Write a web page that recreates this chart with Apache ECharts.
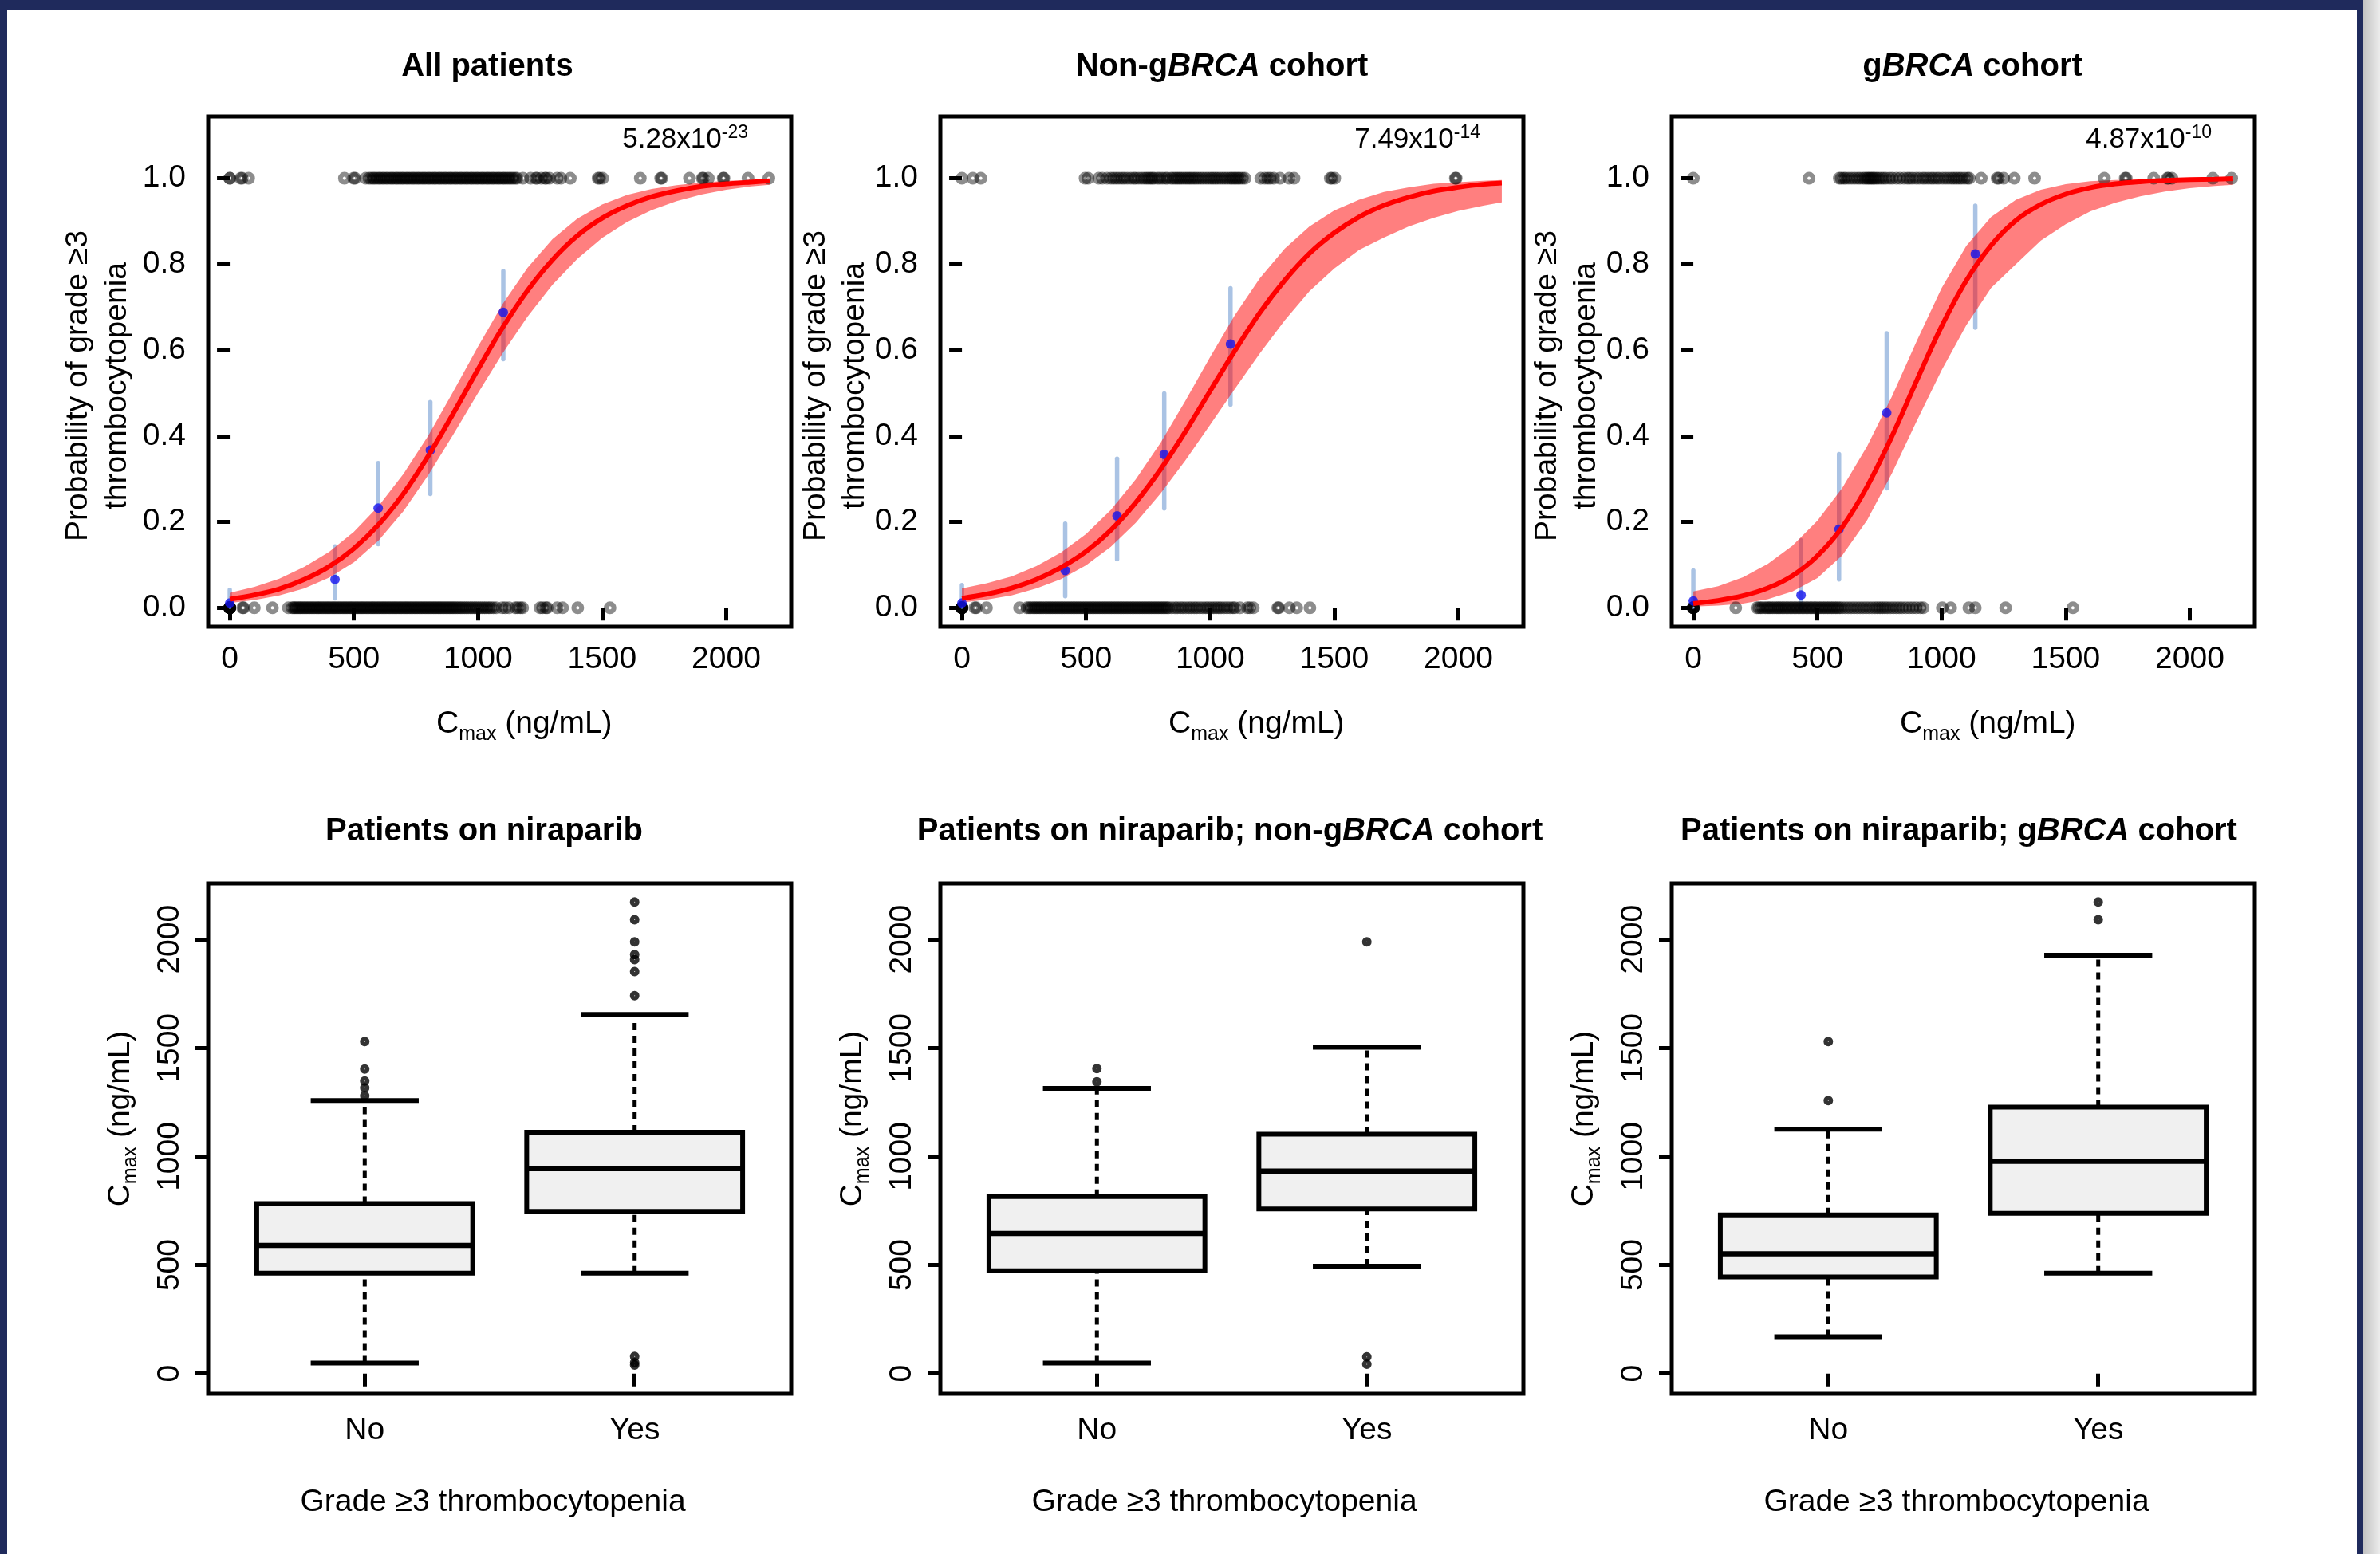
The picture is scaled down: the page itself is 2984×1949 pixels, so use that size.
<!DOCTYPE html>
<html>
<head>
<meta charset="utf-8">
<script src="https://cdn.jsdelivr.net/npm/echarts@6.0.0/dist/echarts.min.js"></script>
<style>
  html, body { margin: 0; padding: 0; background: #ffffff; }
  #chart { width: 2984px; height: 1949px; }
</style>
</head>
<body>
<div id="chart"></div>
<script>
// ---------- Exposure–response data ----------
const cmaxSteps = [0, 100, 200, 300, 400, 500, 600, 700, 800, 900, 1000, 1100, 1200, 1300, 1400, 1500, 1600, 1700, 1800, 1900, 2000, 2100, 2175];

// All patients: fitted probability and 95% band
const allFit   = [0.020, 0.030, 0.044, 0.066, 0.096, 0.138, 0.194, 0.266, 0.354, 0.452, 0.555, 0.653, 0.739, 0.810, 0.866, 0.907, 0.936, 0.957, 0.971, 0.981, 0.987, 0.991, 0.994];
const allLower = [0.011, 0.018, 0.029, 0.045, 0.070, 0.106, 0.157, 0.225, 0.309, 0.403, 0.500, 0.593, 0.678, 0.752, 0.812, 0.861, 0.898, 0.926, 0.947, 0.962, 0.973, 0.981, 0.985];
const allUpper = [0.035, 0.049, 0.068, 0.095, 0.130, 0.177, 0.237, 0.312, 0.401, 0.503, 0.608, 0.708, 0.792, 0.858, 0.906, 0.939, 0.961, 0.975, 0.984, 0.990, 0.994, 0.996, 0.997];
const allBinCmax  = [0, 424, 598, 808, 1102];
const allBinRate  = [0.011, 0.066, 0.232, 0.367, 0.688];
const allBinLower = [0, 0.022, 0.148, 0.265, 0.579];
const allBinUpper = [0.042, 0.143, 0.337, 0.479, 0.784];
const allEvents = [0, 0, 44, 50, 76, 462, 499, 505,
  548, 561, 569, 578, 584, 593, 601, 607, 616, 622, 631, 637, 646, 653, 659, 668, 674, 681, 689, 696, 702, 711, 717, 724,
  732, 739, 745, 754, 760, 767, 775, 782, 788, 797, 803, 810, 818, 825, 831, 840, 846, 853, 861, 868, 874, 883, 889, 896,
  904, 911, 917, 926, 932, 939, 947, 954, 960, 969, 975, 982, 990, 997, 1003, 1012, 1018, 1025, 1033, 1040, 1046, 1055,
  1061, 1068, 1076, 1083, 1089, 1098, 1104, 1111, 1119, 1126, 1134, 1141, 1150, 1157,
  1181, 1212, 1233, 1238, 1255, 1270, 1275, 1288, 1319, 1334, 1372, 1484, 1490, 1502, 1654, 1736, 1740, 1852, 1904, 1908,
  1928, 1988, 1991, 2088, 2172];
const allNoEvents = [0, 0, 0, 0, 0, 0, 0, 0, 0, 0, 52, 56, 99, 172, 236,
  251, 257, 262, 268, 275, 281, 286, 293, 299, 305, 311, 318, 323, 330, 336, 342, 349, 355, 360, 367, 373, 379, 386, 392,
  398, 404, 411, 417, 423, 429, 436, 442, 448, 455, 461, 467, 473, 480, 486, 492, 498, 505, 511, 517, 524, 530, 536, 542,
  549, 555, 561, 568, 574, 580, 586, 593, 599, 605, 612, 618, 624, 630, 637, 643, 649, 656, 662, 668, 674, 681, 687, 693,
  700, 706, 712, 718, 725, 731, 737, 744, 750, 756, 763, 769, 775, 782, 788, 794, 801, 807, 813, 820, 826, 832, 839, 845,
  851, 858, 864, 871, 877, 884, 890, 897, 903, 910, 917, 924, 931, 938, 946, 953, 961, 969, 977, 985, 993, 1001, 1010,
  1018, 1027, 1035, 1044, 1052, 1062, 1074, 1098, 1110, 1125, 1151, 1160, 1171, 1180, 1250, 1260, 1273, 1279, 1319, 1341,
  1402, 1532];

// Non-gBRCA cohort
const nonFit   = [0.022, 0.032, 0.046, 0.066, 0.094, 0.131, 0.181, 0.245, 0.322, 0.410, 0.505, 0.599, 0.687, 0.762, 0.825, 0.873, 0.910, 0.937, 0.956, 0.970, 0.979, 0.986, 0.989];
const nonLower = [0.012, 0.019, 0.029, 0.045, 0.067, 0.099, 0.142, 0.198, 0.266, 0.343, 0.426, 0.510, 0.592, 0.669, 0.737, 0.790, 0.833, 0.862, 0.888, 0.908, 0.924, 0.936, 0.944];
const nonUpper = [0.045, 0.057, 0.073, 0.097, 0.129, 0.172, 0.228, 0.299, 0.384, 0.482, 0.584, 0.682, 0.767, 0.836, 0.888, 0.925, 0.950, 0.968, 0.979, 0.987, 0.991, 0.994, 0.996];
const nonBinCmax  = [0, 416, 625, 815, 1082];
const nonBinRate  = [0.011, 0.087, 0.214, 0.357, 0.614];
const nonBinLower = [0, 0.027, 0.113, 0.231, 0.473];
const nonBinUpper = [0.053, 0.196, 0.347, 0.499, 0.744];
const nonEvents = [0, 44, 76, 496, 508, 551, 566, 585, 600, 611, 622, 633, 645, 655, 667, 680, 692, 700, 712, 724, 735,
  744, 752, 760, 767, 775, 788, 797, 808, 820, 828, 842, 851, 860, 868, 876, 884, 893, 902, 910, 918, 926, 935, 943, 952,
  962, 972, 983, 993, 1003, 1012, 1021, 1030, 1040, 1050, 1060, 1070, 1080, 1088, 1096, 1104, 1112, 1120, 1130, 1140,
  1204, 1220, 1232, 1242, 1256, 1281, 1318, 1338, 1484, 1490, 1502, 1988, 1991];
const nonNoEvents = [0, 0, 0, 0, 0, 0, 0, 0, 52, 58, 99, 232,
  262, 270, 278, 286, 293, 300, 307, 314, 321, 328, 336, 343, 350, 357, 364, 371, 378, 385, 392, 399, 406, 413, 420, 427,
  434, 441, 448, 455, 462, 469, 476, 483, 490, 497, 504, 511, 518, 525, 532, 539, 546, 553, 560, 567, 574, 581, 588, 595,
  602, 609, 616, 623, 630, 637, 644, 651, 658, 665, 672, 679, 686, 693, 700, 707, 714, 721, 728, 735, 742, 749, 756, 763,
  770, 777, 784, 791, 798, 805, 812, 819, 826, 833, 845, 858, 868, 880, 890, 902, 914, 924, 936, 946, 958, 970, 982, 992,
  1003, 1014, 1024, 1034, 1044, 1056, 1068, 1080, 1092, 1100, 1120, 1150, 1160, 1174, 1272, 1276, 1319, 1349, 1402];

// gBRCA cohort
const brcaFit   = [0.010, 0.017, 0.028, 0.046, 0.075, 0.121, 0.188, 0.282, 0.399, 0.529, 0.655, 0.762, 0.844, 0.902, 0.939, 0.963, 0.978, 0.987, 0.992, 0.995, 0.997, 0.998, 0.999];
const brcaLower = [0.003, 0.005, 0.010, 0.020, 0.038, 0.069, 0.122, 0.204, 0.313, 0.435, 0.553, 0.658, 0.745, 0.800, 0.855, 0.893, 0.923, 0.943, 0.958, 0.969, 0.977, 0.982, 0.985];
const brcaUpper = [0.038, 0.050, 0.071, 0.102, 0.145, 0.203, 0.279, 0.376, 0.492, 0.621, 0.744, 0.843, 0.910, 0.950, 0.973, 0.986, 0.993, 0.996, 0.998, 0.999, 0.9994, 0.9997, 0.9998];
const brcaBinCmax  = [0, 434, 587, 779, 1136];
const brcaBinRate  = [0.016, 0.030, 0.183, 0.454, 0.824];
const brcaBinLower = [0, 0, 0.066, 0.278, 0.652];
const brcaBinUpper = [0.087, 0.157, 0.358, 0.639, 0.936];
const brcaEvents = [0, 466, 588, 596, 606, 614, 626, 638, 650, 662, 672, 684, 692, 700, 706, 712, 718, 724, 730, 738, 746,
  756, 766, 776, 790, 802, 818, 832, 848, 862, 872, 884, 898, 910, 924, 934, 946, 958, 968, 980, 990, 1004, 1016, 1028,
  1040, 1050, 1060, 1070, 1080, 1092, 1104, 1112, 1160, 1224, 1230, 1250, 1293, 1375, 1656, 1740, 1744, 1855, 1910, 1914,
  1928, 2093, 2169];
const brcaNoEvents = [0, 0, 0, 0, 0, 0, 171,
  256, 264, 272, 280, 290, 298, 305, 312, 320, 328, 336, 343, 350, 358, 366, 374, 382, 390, 398, 406, 414, 422, 430, 438,
  446, 454, 462, 470, 478, 486, 494, 502, 510, 518, 526, 534, 542, 550, 558, 566, 574, 582, 590, 600, 612, 624, 636, 648,
  660, 672, 684, 696, 708, 720, 732, 742, 752, 762, 772, 782, 794, 806, 818, 830, 842, 856, 870, 884, 898, 914, 926,
  1003, 1037, 1110, 1136, 1258, 1529];

const pValueMantissa = ['5.28', '7.49', '4.87'];
const pValueExponent = ['-23', '-14', '-10'];

// ---------- Cmax by grade ≥3 thrombocytopenia (box statistics: low whisker, Q1, median, Q3, high whisker) ----------
const groupLabels = ['No', 'Yes'];
const boxAllNo  = [48, 463, 590, 783, 1258];
const boxAllYes = [463, 747, 944, 1112, 1655];
const outAllNo  = [1280, 1317, 1348, 1403, 1530];
const outAllYes = [2173, 2091, 1989, 1930, 1907, 1852, 1741, 79, 50, 39];
const boxNonNo  = [48, 474, 645, 815, 1314];
const boxNonYes = [495, 758, 933, 1103, 1503];
const outNonNo  = [1344, 1405];
const outNonYes = [1989, 77, 43];
const boxBrcaNo  = [170, 445, 552, 731, 1126];
const boxBrcaYes = [463, 738, 978, 1228, 1927];
const outBrcaNo  = [1258, 1530];
const outBrcaYes = [2091, 2173];

const probTicks = [0, 0.2, 0.4, 0.6, 0.8, 1.0];
const cmaxTicks = [0, 500, 1000, 1500, 2000];

// ---------- layout ----------
const FONT = 'Liberation Sans';
const NAVY = '#1f2a5c';
const COL_LEFT = [261, 1179, 2096];
const PANEL_W = 731, PANEL_H = 640;
const ROW_TOP = [146, 1108];

const topPanels = [
  { title: '{b|All patients}', titleX: 611, fit: allFit, lower: allLower, upper: allUpper,
    binX: allBinCmax, binP: allBinRate, binLo: allBinLower, binHi: allBinUpper,
    events: allEvents, noEvents: allNoEvents, ylabX: 123 },
  { title: '{b|Non-g}{bi|BRCA}{b| cohort}', titleX: 1532, fit: nonFit, lower: nonLower, upper: nonUpper,
    binX: nonBinCmax, binP: nonBinRate, binLo: nonBinLower, binHi: nonBinUpper,
    events: nonEvents, noEvents: nonNoEvents, ylabX: 1048 },
  { title: '{b|g}{bi|BRCA}{b| cohort}', titleX: 2473, fit: brcaFit, lower: brcaLower, upper: brcaUpper,
    binX: brcaBinCmax, binP: brcaBinRate, binLo: brcaBinLower, binHi: brcaBinUpper,
    events: brcaEvents, noEvents: brcaNoEvents, ylabX: 1965 }
];
const bottomPanels = [
  { title: '{b|Patients on niraparib}', titleX: 607, xlabX: 618,
    boxes: [boxAllNo, boxAllYes], outliers: [outAllNo, outAllYes] },
  { title: '{b|Patients on niraparib; non-g}{bi|BRCA}{b| cohort}', titleX: 1542, xlabX: 1535,
    boxes: [boxNonNo, boxNonYes], outliers: [outNonNo, outNonYes] },
  { title: '{b|Patients on niraparib; g}{bi|BRCA}{b| cohort}', titleX: 2456, xlabX: 2453,
    boxes: [boxBrcaNo, boxBrcaYes], outliers: [outBrcaNo, outBrcaYes] }
];

const titleRich = {
  b:  { fontFamily: FONT, fontSize: 40, fontWeight: 'bold', fill: '#000' },
  bi: { fontFamily: FONT, fontSize: 40, fontWeight: 'bold', fontStyle: 'italic', fill: '#000' }
};
const cmaxRich = {
  c: { fontFamily: FONT, fontSize: 39, fill: '#000', lineHeight: 52 },
  s: { fontFamily: FONT, fontSize: 25, fill: '#000', lineHeight: 25, verticalAlign: 'bottom' }
};
const tickText = { fontFamily: FONT, fontSize: 39, color: '#000' };
const tickLine = { show: true, length: 16, lineStyle: { color: '#000', width: 5 } };
const plainNumber = v => String(v);

const grids = [], xAxes = [], yAxes = [], series = [], graphics = [];

function addGrid(left, top) {
  grids.push({ left: left, top: top, width: PANEL_W, height: PANEL_H, show: true,
    borderColor: '#000', borderWidth: 5, backgroundColor: 'transparent' });
  return grids.length - 1;
}

function text(x, y, str, extra) {
  graphics.push(Object.assign({ type: 'text', x: x, y: y, silent: true, z: 10,
    style: Object.assign({ text: str, fontFamily: FONT, fontSize: 39, fill: '#000',
      align: 'center', verticalAlign: 'middle' }, extra.style || {}) }, extra.el || {}));
}

// ---------- logistic panels ----------
topPanels.forEach((p, i) => {
  const g = addGrid(COL_LEFT[i], ROW_TOP[0]);
  xAxes.push({ gridIndex: g, type: 'value', min: -87, max: 2262,
    axisLine: { show: false }, splitLine: { show: false },
    axisTick: Object.assign({ customValues: cmaxTicks }, tickLine),
    axisLabel: Object.assign({ customValues: cmaxTicks, margin: 22, formatter: plainNumber }, tickText) });
  yAxes.push({ gridIndex: g, type: 'value', min: -0.044, max: 1.144,
    axisLine: { show: false }, splitLine: { show: false },
    axisTick: Object.assign({ customValues: probTicks }, tickLine),
    axisLabel: Object.assign({ customValues: probTicks, margin: 28, formatter: v => v.toFixed(1) }, tickText) });

  const ring = { color: 'rgba(0,0,0,0)', borderColor: 'rgba(0,0,0,0.56)', borderWidth: 6 };
  series.push({ type: 'scatter', xAxisIndex: g, yAxisIndex: g, silent: true,
    data: p.events.map(x => [x, 1]), symbol: 'circle', symbolSize: 10, itemStyle: ring });
  series.push({ type: 'scatter', xAxisIndex: g, yAxisIndex: g, silent: true,
    data: p.noEvents.map(x => [x, 0]), symbol: 'circle', symbolSize: 10, itemStyle: ring });

  // binned observed rates with 95% CI bars
  series.push({ type: 'custom', xAxisIndex: g, yAxisIndex: g, silent: true,
    data: p.binX.map((x, k) => [x, p.binLo[k], p.binHi[k]]), encode: { x: 0, y: [1, 2] },
    renderItem: (params, api) => {
      const a = api.coord([api.value(0), api.value(1)]);
      const b = api.coord([api.value(0), api.value(2)]);
      return { type: 'line', shape: { x1: a[0], y1: a[1], x2: b[0], y2: b[1] },
        style: { stroke: 'rgba(100,146,206,0.55)', lineWidth: 5.5, lineCap: 'round' } };
    } });
  series.push({ type: 'scatter', xAxisIndex: g, yAxisIndex: g, silent: true,
    data: p.binX.map((x, k) => [x, p.binP[k]]), symbol: 'circle', symbolSize: 12,
    itemStyle: { color: '#1414ee' } });

  // confidence band of the logistic fit
  series.push({ type: 'custom', xAxisIndex: g, yAxisIndex: g, silent: true,
    data: cmaxSteps.map((x, k) => [x, p.lower[k], p.upper[k]]), encode: { x: 0, y: [1, 2] },
    renderItem: (params, api) => {
      if (params.dataIndex !== 0) return { type: 'group', children: [] };
      const up = cmaxSteps.map((x, k) => api.coord([x, p.upper[k]]));
      const lo = cmaxSteps.map((x, k) => api.coord([x, p.lower[k]])).reverse();
      return { type: 'polygon', shape: { points: up.concat(lo) }, style: { fill: 'rgba(255,0,0,0.5)' } };
    } });
  series.push({ type: 'line', xAxisIndex: g, yAxisIndex: g, silent: true, symbol: 'none',
    smooth: 0.35, data: cmaxSteps.map((x, k) => [x, p.fit[k]]),
    lineStyle: { color: '#ff0000', width: 6 } });

  const right = COL_LEFT[i] + PANEL_W;
  text(p.titleX, 84, p.title, { style: { rich: titleRich } });
  text(right - 54, 175, '{m|' + pValueMantissa[i] + 'x10}{e|' + pValueExponent[i] + '}', { style: { align: 'right',
    rich: { m: { fontFamily: FONT, fontSize: 35, fill: '#000', lineHeight: 39 },
            e: { fontFamily: FONT, fontSize: 23, fill: '#000', lineHeight: 23, verticalAlign: 'top' } } } });
  text(COL_LEFT[i] + 286, 908, '{c|C}{s|max}{c| (ng/mL)}', { style: { align: 'left', rich: cmaxRich } });
  text(p.ylabX, 484, 'Probability of grade \u22653\nthrombocytopenia',
    { style: { lineHeight: 49 }, el: { rotation: Math.PI / 2 } });
});

// ---------- box plot panels ----------
bottomPanels.forEach((p, i) => {
  const g = addGrid(COL_LEFT[i], ROW_TOP[1]);
  xAxes.push({ gridIndex: g, type: 'value', min: 0.42, max: 2.58,
    axisLine: { show: false }, splitLine: { show: false },
    axisTick: Object.assign({ customValues: [1, 2] }, tickLine),
    axisLabel: Object.assign({ customValues: [1, 2], margin: 27,
      formatter: v => groupLabels[Math.round(v) - 1] }, tickText) });
  yAxes.push({ gridIndex: g, type: 'value', min: -93, max: 2258,
    axisLine: { show: false }, splitLine: { show: false },
    axisTick: Object.assign({ customValues: cmaxTicks }, tickLine),
    axisLabel: Object.assign({ customValues: cmaxTicks, margin: 28, rotate: 90, formatter: plainNumber }, tickText) });

  series.push({ type: 'custom', xAxisIndex: g, yAxisIndex: g, silent: true,
    data: p.boxes.map((b, k) => [k + 1].concat(b)), encode: { x: 0, y: [1, 2, 3, 4, 5] },
    renderItem: (params, api) => {
      const x = api.value(0), lo = api.value(1), q1 = api.value(2), med = api.value(3), q3 = api.value(4), hi = api.value(5);
      const c = (a, b) => api.coord([a, b]);
      const seg = (s, e, style) => ({ type: 'line', shape: { x1: s[0], y1: s[1], x2: e[0], y2: e[1] }, style: style });
      const dash = { stroke: '#000', lineWidth: 5, lineDash: [9, 7] };
      const solid = { stroke: '#000', lineWidth: 6 };
      const tl = c(x - 0.4, q3), br = c(x + 0.4, q1);
      return { type: 'group', children: [
        seg(c(x, q3), c(x, hi), dash),
        seg(c(x, lo), c(x, q1), dash),
        seg(c(x - 0.2, hi), c(x + 0.2, hi), solid),
        seg(c(x - 0.2, lo), c(x + 0.2, lo), solid),
        { type: 'rect', shape: { x: tl[0], y: tl[1], width: br[0] - tl[0], height: br[1] - tl[1] },
          style: { fill: '#f0f0f0', stroke: '#000', lineWidth: 6 } },
        seg(c(x - 0.4, med), c(x + 0.4, med), { stroke: '#000', lineWidth: 6.5 })
      ] };
    } });
  series.push({ type: 'scatter', xAxisIndex: g, yAxisIndex: g, silent: true, symbol: 'circle', symbolSize: 6.5,
    data: p.outliers[0].map(v => [1, v]).concat(p.outliers[1].map(v => [2, v])),
    itemStyle: { color: 'rgba(0,0,0,0)', borderColor: '#000', borderWidth: 5.5 } });

  text(p.titleX, 1043, p.title, { style: { rich: titleRich } });
  text(p.xlabX, 1884, 'Grade \u22653 thrombocytopenia', {});
  text(COL_LEFT[i] - 110, 1403, '{c|C}{s|max}{c| (ng/mL)}',
    { style: { rich: cmaxRich }, el: { rotation: Math.PI / 2 } });
});

// ---------- page frame ----------
graphics.push({ type: 'rect', silent: true, z: 20, shape: { x: 0, y: 0, width: 2963, height: 12 }, style: { fill: NAVY } });
graphics.push({ type: 'rect', silent: true, z: 20, shape: { x: 0, y: 0, width: 9, height: 1949 }, style: { fill: NAVY } });
graphics.push({ type: 'rect', silent: true, z: 20, shape: { x: 2955, y: 0, width: 8, height: 1949 }, style: { fill: NAVY } });
graphics.push({ type: 'rect', silent: true, z: 20, shape: { x: 2963, y: 0, width: 21, height: 1949 },
  style: { fill: new echarts.graphic.LinearGradient(0, 0, 1, 0, [
    { offset: 0, color: '#c2c2c2' }, { offset: 1, color: '#ececec' }]) } });

const chart = echarts.init(document.getElementById('chart'), null, { renderer: 'canvas' });
chart.setOption({
  animation: false,
  backgroundColor: '#ffffff',
  grid: grids,
  xAxis: xAxes,
  yAxis: yAxes,
  series: series,
  graphic: graphics
});
</script>
</body>
</html>
